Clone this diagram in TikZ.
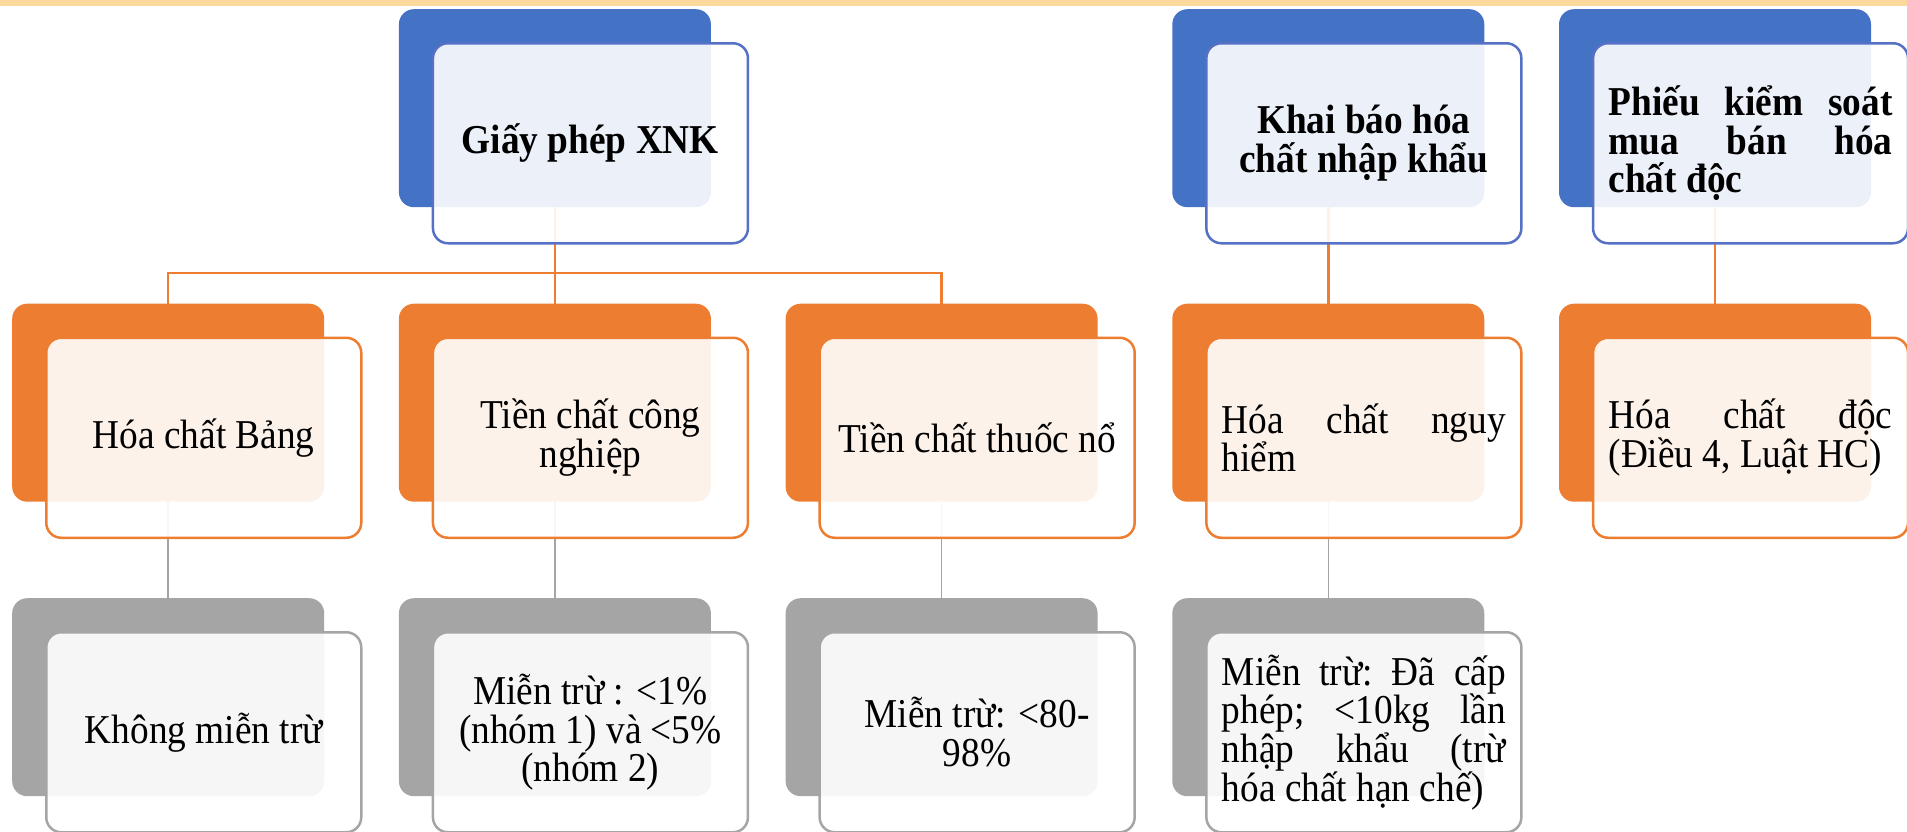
\documentclass[tikz,border=0pt]{standalone}
\usepackage{fontspec}
\usepackage{graphicx}
\setmainfont{Liberation Serif}
\definecolor{cblue}{HTML}{4472C4}
\definecolor{cbluefr}{HTML}{5570C4}
\definecolor{corange}{HTML}{ED7D31}
\definecolor{cgray}{HTML}{A5A5A5}
\definecolor{cband}{HTML}{FBD99C}
\newcommand{\ctxt}[1]{\scalebox{0.91}[1]{\parbox{318pt}{\centering #1}}}
\newcommand{\jtxt}[1]{\scalebox{0.91}[1]{\parbox{312pt}{\raggedright #1}}}
\begin{document}
\begin{tikzpicture}[x=1pt,y=-1pt,
  backbox/.style={rectangle, rounded corners=15pt, minimum width=312pt, minimum height=198pt, inner sep=0pt, anchor=north west},
  frontbox/.style={rectangle, rounded corners=15pt, minimum width=315pt, minimum height=200pt, inner sep=0pt, anchor=north west, fill=white, fill opacity=0.9, text opacity=1, line width=2.5pt, font=\fontsize{41}{38.7}\selectfont},
  bluebk/.style={backbox, fill=cblue},
  orangebk/.style={backbox, fill=corange},
  graybk/.style={backbox, fill=cgray},
  bluefr/.style={frontbox, draw=cbluefr},
  orangefr/.style={frontbox, draw=corange},
  grayfr/.style={frontbox, draw=cgray},
  oline/.style={draw=corange, line width=2.5pt},
  gline/.style={draw=cgray, line width=1.6pt}]
\useasboundingbox (0,0) rectangle (1907,831);
\fill[cband] (0,0) rectangle (1907,6);
\coordinate (bus) at (0,273);

% back boxes
\node[bluebk] (A2b) at (398.7,9) {};
\node[bluebk] (A4b) at (1172.1,9) {};
\node[bluebk] (A5b) at (1558.8,9) {};
\node[orangebk] (B1b) at (12,303.5) {};
\node[orangebk] (B2b) at (398.7,303.5) {};
\node[orangebk] (B3b) at (785.4,303.5) {};
\node[orangebk] (B4b) at (1172.1,303.5) {};
\node[orangebk] (B5b) at (1558.8,303.5) {};
\node[graybk] (C1b) at (12,598) {};
\node[graybk] (C2b) at (398.7,598) {};
\node[graybk] (C3b) at (785.4,598) {};
\node[graybk] (C4b) at (1172.1,598) {};

% connectors (behind the front boxes)
\draw[oline] (A2b.south) -- (B2b.north);
\draw[oline] (B1b.north) -- (B1b.north |- bus) -- (B3b.north |- bus) -- (B3b.north);
\draw[oline] (A4b.south) -- (B4b.north);
\draw[oline] (A5b.south) -- (B5b.north);
\draw[gline] (B1b.south) -- (C1b.north);
\draw[gline] (B2b.south) -- (C2b.north);
\draw[gline] (B3b.south) -- (C3b.north);
\draw[gline] (B4b.south) -- (C4b.north);

% front boxes
\node[bluefr] (A2) at (431.7,42) {\ctxt{\bfseries Giấy phép XNK}};
\node[bluefr] (A4) at (1205.1,42) {\ctxt{\bfseries Khai báo hóa\\chất nhập khẩu}};
\node[bluefr] (A5) at (1591.8,42) {\jtxt{\bfseries Phiếu\hfill kiểm\hfill soát\\ mua\hfill bán\hfill hóa\\ chất độc}};
\node[orangefr] (B1) at (45,336.5) {\ctxt{Hóa chất Bảng}};
\node[orangefr] (B2) at (431.7,336.5) {\ctxt{Tiền chất công\\nghiệp}};
\node[orangefr] (B3) at (818.4,336.5) {\ctxt{Tiền chất thuốc nổ}};
\node[orangefr] (B4) at (1205.1,336.5) {\jtxt{Hóa\hfill chất\hfill nguy\\ hiểm}};
\node[orangefr] (B5) at (1591.8,336.5) {\jtxt{Hóa\hfill chất\hfill độc\\ (Điều 4, Luật HC)}};
\node[grayfr] (C1) at (45,631) {\ctxt{Không miễn trừ}};
\node[grayfr] (C2) at (431.7,631) {\ctxt{Miễn trừ : <1\%\\(nhóm 1) và <5\%\\(nhóm 2)}};
\node[grayfr] (C3) at (818.4,631) {\ctxt{Miễn trừ: <80-\\98\%}};
\node[grayfr] (C4) at (1205.1,631) {\jtxt{Miễn\hfill trừ:\hfill Đã\hfill cấp\\ phép;\hfill <10kg\hfill lần\\ nhập\hfill khẩu\hfill (trừ\\ hóa chất hạn chế)}};
\end{tikzpicture}
\end{document}
